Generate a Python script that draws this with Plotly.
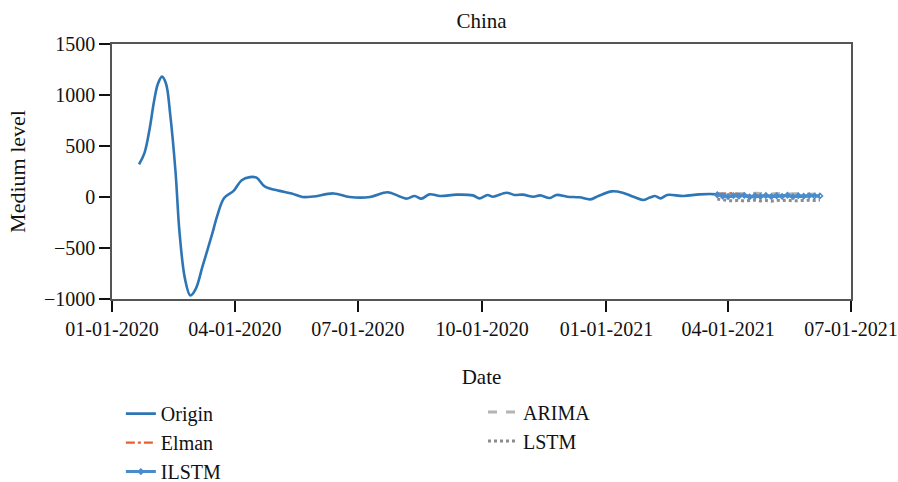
import plotly.graph_objects as go

# ---------------- data ----------------
origin_dates = [
    "2020-01-21", "2020-01-25", "2020-01-29", "2020-02-01", "2020-02-04", "2020-02-07",
    "2020-02-10", "2020-02-13", "2020-02-17", "2020-02-20", "2020-02-24", "2020-02-28",
    "2020-03-03", "2020-03-08", "2020-03-15", "2020-03-19", "2020-03-24", "2020-03-31",
    "2020-04-06", "2020-04-12", "2020-04-17", "2020-04-23", "2020-05-04", "2020-05-13",
    "2020-05-21", "2020-05-29", "2020-06-13", "2020-06-25", "2020-07-10", "2020-07-23",
    "2020-08-01", "2020-08-06", "2020-08-12", "2020-08-17", "2020-08-23", "2020-08-31",
    "2020-09-12", "2020-09-24", "2020-09-29", "2020-10-05", "2020-10-09", "2020-10-19",
    "2020-10-25", "2020-10-31", "2020-11-08", "2020-11-13", "2020-11-20", "2020-11-25",
    "2020-12-03", "2020-12-12", "2020-12-20", "2020-12-26", "2021-01-05", "2021-01-13",
    "2021-01-21", "2021-01-28", "2021-02-02", "2021-02-06", "2021-02-10", "2021-02-15",
    "2021-02-27", "2021-03-11", "2021-03-24", "2021-04-01", "2021-04-10", "2021-04-19",
    "2021-04-28", "2021-05-06", "2021-05-15", "2021-05-24", "2021-06-02", "2021-06-08",
]
origin_values = [
    320, 430, 680, 930, 1110, 1180,
    1110, 820, 250, -350, -800, -965,
    -900, -680, -370, -180, -10, 60,
    165, 195, 190, 105, 60, 35,
    0, 5, 35, 0, 0, 47,
    5, -16, 10, -16, 26, 10,
    23, 16, -13, 20, 3, 42,
    20, 23, 3, 16, -10, 20,
    3, -3, -23, 10, 55, 42,
    3, -29, -6, 10, -13, 20,
    10, 26, 26, 5, 15, 0,
    12, 5, 18, 3, 12, 10,
]

pred_dates = [
    "2021-03-24", "2021-03-28", "2021-04-01", "2021-04-05", "2021-04-09",
    "2021-04-13", "2021-04-17", "2021-04-21", "2021-04-25", "2021-04-29",
    "2021-05-03", "2021-05-07", "2021-05-11", "2021-05-15", "2021-05-19",
    "2021-05-23", "2021-05-27", "2021-05-31", "2021-06-04", "2021-06-08",
]
elman_values = [30, 35, 40, 38, 25, 15, 12, 18, 10, 14, 8, 12, 10, 15, 8, 12, 10, 14, 10, 12]
ilstm_values = [22, 10, 5, 14, 8, 16, 2, 12, 6, 15, 4, 12, 7, 17, 3, 13, 8, 14, 9, 11]
arima_values = [35, 30, 28, 35, 33, 25, 30, 36, 32, 28, 30, 34, 30, 27, 33, 35, 30, 28, 32, 30]
lstm_values = [-20, -30, -35, -38, -32, -40, -35, -30, -38, -35, -42, -33, -36, -30, -38, -34, -37, -32, -35, -30]

x_tickvals = ["2020-01-01", "2020-04-01", "2020-07-01", "2020-10-01",
              "2021-01-01", "2021-04-01", "2021-07-01"]
x_ticktext = ["01-01-2020", "04-01-2020", "07-01-2020", "10-01-2020",
              "01-01-2021", "04-01-2021", "07-01-2021"]
y_tickvals = [-1000, -500, 0, 500, 1000, 1500]
y_ticktext = ["\u22121000", "\u2212500", "0", "500", "1000", "1500"]

FONT = "Liberation Serif, Times New Roman, DejaVu Serif, serif"
FS = 20

fig = go.Figure()
fig.add_trace(go.Scatter(x=origin_dates, y=origin_values, name="Origin", mode="lines",
                         line=dict(color="#2e75b6", width=2.6, shape="spline", smoothing=1.0),
                         legend="legend"))
fig.add_trace(go.Scatter(x=pred_dates, y=arima_values, name="ARIMA", mode="lines",
                         line=dict(color="#b4b4b4", width=3, dash="dash"),
                         legend="legend2"))
fig.add_trace(go.Scatter(x=pred_dates, y=lstm_values, name="LSTM", mode="lines",
                         line=dict(color="#8c8c8c", width=3, dash="dot"),
                         legend="legend2"))
fig.add_trace(go.Scatter(x=pred_dates, y=elman_values, name="Elman", mode="lines",
                         line=dict(color="#e8602c", width=2.2, dash="dashdot"),
                         legend="legend"))
fig.add_trace(go.Scatter(x=pred_dates, y=ilstm_values, name="ILSTM", mode="lines+markers",
                         line=dict(color="#4a8ccb", width=3),
                         marker=dict(symbol="diamond-open", size=4, color="#4a8ccb",
                                     line=dict(width=1.5)),
                         legend="legend"))

fig.update_layout(
    width=898, height=482,
    margin=dict(l=112, r=47, t=44, b=183, autoexpand=False),
    paper_bgcolor="white", plot_bgcolor="white",
    font=dict(family=FONT, size=FS, color="#111111"),
    title=dict(text="China", x=0.5, xref="paper", xanchor="center",
               yref="container", y=1 - 21 / 482, yanchor="middle",
               font=dict(family=FONT, size=21, color="#111111")),
    showlegend=True,
    legend=dict(x=0.012, y=-0.373, xanchor="left", yanchor="top", orientation="v",
                traceorder="normal", bgcolor="rgba(0,0,0,0)",
                font=dict(family=FONT, size=FS), tracegroupgap=0),
    legend2=dict(x=0.502, y=-0.367, xanchor="left", yanchor="top", orientation="v",
                 traceorder="normal", bgcolor="rgba(0,0,0,0)",
                 font=dict(family=FONT, size=FS), tracegroupgap=0),
    xaxis=dict(
        type="date", range=["2020-01-01", "2021-07-01"], automargin=False,
        tickmode="array", tickvals=x_tickvals, ticktext=x_ticktext,
        showgrid=False, zeroline=False,
        showline=True, linecolor="#555555", linewidth=1.5, mirror=True,
        ticks="outside", ticklen=11, tickwidth=2, tickcolor="#111111",
        tickfont=dict(family=FONT, size=FS),
        title=dict(text="Date", font=dict(family=FONT, size=21), standoff=31),
    ),
    yaxis=dict(
        range=[-1000, 1500], automargin=False,
        tickmode="array", tickvals=y_tickvals, ticktext=y_ticktext,
        showgrid=False, zeroline=False,
        showline=True, linecolor="#555555", linewidth=1.5, mirror=True,
        ticks="outside", ticklen=11, tickwidth=2, tickcolor="#111111",
        tickfont=dict(family=FONT, size=FS),
        title=dict(text="Medium level", font=dict(family=FONT, size=22), standoff=12),
    ),
)

fig.write_html("out.html",
               config={"displayModeBar": False},
               post_script="document.body.style.margin='0';document.body.style.overflow='hidden';")
